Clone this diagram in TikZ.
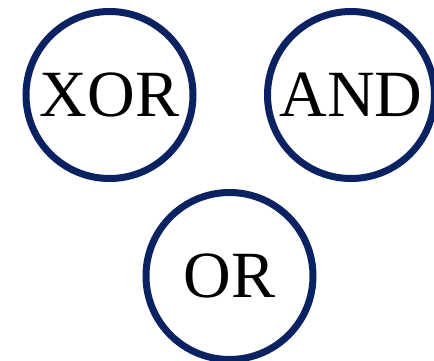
\documentclass[tikz,border=0pt]{standalone}
\usepackage{fontspec}
\setmainfont{Liberation Serif}
\usetikzlibrary{positioning}
\definecolor{gatenavy}{RGB}{10,34,98}

\begin{document}
\begin{tikzpicture}[
        x=1pt, y=1pt,
        gate/.style={circle, draw=gatenavy, line width=7pt, minimum size=167pt, inner sep=0pt, font=\fontsize{66}{66}\selectfont}
    ]
        \useasboundingbox (0,0) rectangle (434,360);
        \node (xor) [gate] at (109.5,265) {XOR};
        \node (and) [gate] at (351,265) {AND};
        \node (or) [gate] at (229.5,84) {OR};
    \end{tikzpicture}
\end{document}
